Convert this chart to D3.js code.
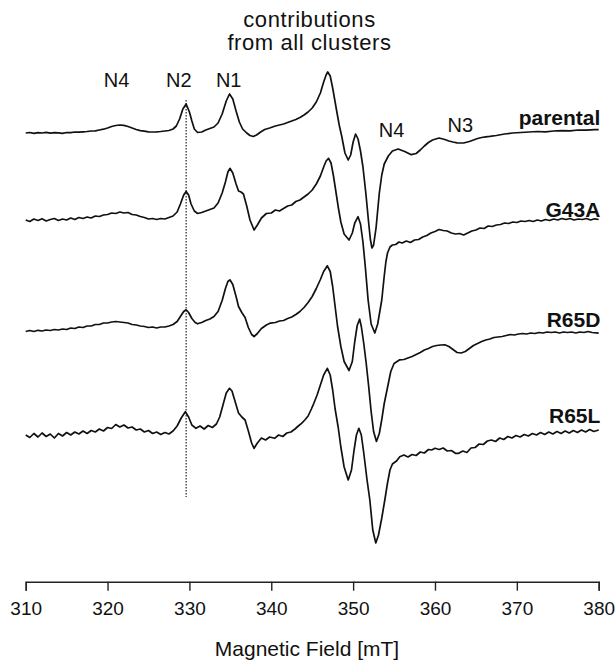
<!DOCTYPE html>
<html>
<head>
<meta charset="utf-8">
<script src="https://cdn.jsdelivr.net/npm/d3@7"></script>
<style>
  body { margin: 0; background: #fff; }
  svg { display: block; font-family: "Liberation Sans", Arial, Helvetica, sans-serif; }
</style>
</head>
<body>
<div class="canvas"></div>
<script>
// EPR spectra (field in mT, signal in arbitrary units, relative to each trace's baseline)
const parental = [[310,0],[310.5,0.5],[311,-0.3],[311.5,0.4],[312,0],[312.5,0.6],[313,-0.2],[313.5,0.3],[314,0.2],[314.5,-0.4],[315,0.5],[315.5,0.3],[316,1],[316.5,0.8],[317,1.2],[317.5,1.5],[318,2],[318.5,2.2],[319,3],[319.5,3.8],[320,5],[320.5,6.5],[321,7.5],[321.5,8],[322,7.6],[322.5,6.5],[323,5],[323.5,3.5],[324,2.4],[324.5,1.8],[325,1.2],[325.5,1],[326,1.2],[326.5,1.5],[327,2],[327.5,2.5],[328,4],[328.4,7],[328.8,14],[329.2,24],[329.6,29],[330,21],[330.3,12],[330.6,4],[331,0.5],[331.5,1],[332,3],[332.5,4.5],[333,6],[333.5,10],[334,19],[334.5,32],[334.9,39],[335.3,34],[335.7,22],[336.1,11],[336.5,4],[337,0],[337.4,-2.5],[337.8,-3.5],[338.2,-2],[338.7,1],[339.2,3.5],[339.8,5],[340.5,7],[341,8],[341.5,9],[342,10.5],[342.5,12],[343,13.5],[343.5,15.5],[344,18],[344.5,21],[345,25],[345.5,31],[346,40],[346.4,51],[346.7,58],[346.9,61],[347.2,57],[347.5,45],[347.97,23],[348.3,8],[348.6,-3],[349.0,-20],[349.4,-27],[349.7,-22],[350.0,-9],[350.3,-1],[350.6,-6],[350.9,-18],[351.2,-34],[351.55,-60],[351.9,-90],[352.1,-106],[352.3,-115],[352.5,-112],[352.8,-95],[353.2,-60],[353.5,-42],[353.8,-31],[354.3,-23],[354.8,-18],[355.5,-16],[356.3,-18.5],[357.1,-21.7],[357.7,-20.5],[358.2,-17],[358.7,-13],[359.2,-9.5],[359.7,-7],[360.5,-5],[361.2,-6.5],[361.7,-8],[362.2,-9],[362.7,-9.8],[363.5,-10],[364.2,-8.5],[364.7,-7],[365.2,-5.5],[365.7,-4.5],[366.2,-3.8],[366.7,-3.4],[367.5,-2.5],[368.5,-1],[369.5,0],[370.5,0.5],[371.5,1],[372.5,1.5],[373.5,1.2],[374.5,2],[375.5,2.4],[376.5,2.2],[377.5,3],[378.5,2.8],[379.5,3.4],[380,3.3]]

const g43a = [[310,0],[310.5,-1.5],[311,1],[311.5,-0.5],[312,1.2],[312.5,-1],[313,0.5],[313.5,1.5],[314,-0.5],[314.5,1],[315,0],[315.5,2],[316,0.5],[316.5,2.5],[317,1.5],[317.5,3],[318,2],[318.5,4],[319,3.5],[319.5,5],[320,5.5],[320.5,7],[321,6.5],[321.5,8],[322,7],[322.5,7.5],[323,5.5],[323.5,5],[324,3.5],[324.5,2.5],[325,1],[325.5,1.5],[326,0.5],[326.5,1.5],[327,1],[327.5,2.5],[328,4],[328.5,8],[328.9,16],[329.3,25],[329.6,28.5],[329.9,25],[330.2,16],[330.6,9],[331,6.5],[331.5,7.5],[332,9],[332.5,10.5],[333,12],[333.5,17],[334,27],[334.4,38],[334.7,48],[334.95,51.7],[335.3,47],[335.7,36],[336.0,29],[336.3,28],[336.6,26],[337.0,14],[337.4,0],[337.9,-10],[338.3,-5],[338.8,2],[339.4,6.5],[340,7],[340.5,10],[341,9],[341.5,11.5],[342,14],[342.5,15],[343,18.5],[343.5,20],[344,23],[344.5,26],[345,30],[345.5,36],[346,44],[346.4,53],[346.7,59],[347.0,61.7],[347.3,57],[347.6,44],[347.9,28],[348.2,12],[348.5,-2],[348.9,-14],[349.5,-20],[349.9,-13],[350.2,-3],[350.6,3.3],[350.9,-4],[351.2,-22],[351.5,-48],[351.83,-80],[352.2,-104],[352.65,-113],[353.0,-104],[353.25,-92],[353.5,-80],[353.8,-56],[354.0,-42],[354.2,-33],[354.5,-27],[354.8,-25],[355.2,-24.5],[355.6,-22],[356,-23],[356.5,-21],[357,-22.5],[357.5,-20],[358,-19.5],[358.5,-17],[359,-15.5],[359.5,-13],[360,-11.5],[360.5,-9.5],[361,-10.5],[361.5,-11],[362,-13],[362.5,-14],[363,-13.5],[363.5,-15],[364,-13],[364.5,-11],[365,-10],[365.5,-8],[366,-8.5],[366.5,-6],[367,-6.5],[367.5,-5],[368,-4.5],[368.5,-3],[369,-3.5],[369.5,-2],[370,-2.5],[370.5,-1],[371,-1.5],[371.5,-0.5],[372,-1.5],[372.5,0],[373,-1],[373.5,0.5],[374,-0.5],[374.5,1],[375,0],[375.5,1.5],[376,0.5],[376.5,1.5],[377,0],[377.5,1],[378,0.5],[378.5,1.5],[379,0],[379.5,1.2],[380,0.5]]

const r65d = [[310,0],[310.5,1],[311,0],[311.5,1.2],[312,0.5],[312.5,1.5],[313,1],[313.5,2],[314,1.5],[314.5,2.5],[315,2],[315.5,3.5],[316,3],[316.5,4.5],[317,4],[317.5,5.5],[318,5.5],[318.5,7],[319,7],[319.5,8.5],[320,8.5],[320.5,9.5],[321,10],[321.5,9.5],[322,9],[322.5,8.5],[323,7],[323.5,6.5],[324,5.5],[324.5,5],[325,4],[325.5,4.5],[326,3.5],[326.5,4.5],[327,4.5],[327.5,5.5],[328,7],[328.5,10],[328.9,15],[329.3,20],[329.6,21.7],[329.9,19],[330.3,13],[330.7,9],[331,7.7],[331.5,9],[332,11],[332.5,12.5],[333,15],[333.5,20],[334,31],[334.4,43],[334.7,50],[334.95,51.7],[335.3,47],[335.7,35],[336.0,25],[336.4,19],[336.8,14],[337.2,4],[337.6,-3],[337.9,-5],[338.3,-2],[338.8,3],[339.4,6.5],[339.9,8.4],[340.5,9],[341,10.5],[341.5,11],[342,13],[342.5,14.5],[343,17],[343.5,20],[344,24],[344.5,29],[345,35],[345.5,43],[346,52],[346.4,60],[346.85,65.7],[347.2,60],[347.5,45],[347.8,25],[348.1,5],[348.5,-15],[348.9,-30],[349.5,-39],[349.9,-30],[350.2,-10],[350.5,6],[350.8,12.4],[351.0,5],[351.3,-12],[351.6,-32],[351.9,-55],[352.2,-80],[352.5,-100],[352.85,-110],[353.2,-102],[353.5,-88],[353.8,-72],[354.1,-60],[354.3,-52],[354.6,-40],[355.0,-32],[355.7,-28.3],[356.2,-28],[356.7,-26.5],[357.2,-25],[357.7,-23],[358.2,-21],[358.7,-18.5],[359.2,-17],[359.7,-15],[360.2,-14],[360.7,-13.5],[361.2,-13.3],[361.7,-15],[362.2,-18],[362.7,-21],[363.2,-21.5],[363.7,-20],[364.2,-17],[364.7,-14],[365.2,-12],[365.7,-10],[366.2,-8.5],[366.7,-7.5],[367.2,-6],[367.7,-5.5],[368.2,-5],[368.7,-4],[369.2,-3],[369.7,-3.5],[370.2,-2.5],[370.7,-2],[371.2,-2.5],[371.7,-1.5],[372.2,-2],[372.7,-1],[373.2,-1.5],[373.7,-0.5],[374.2,-1],[374.7,-0.5],[375.2,-1.5],[375.7,-0.5],[376.2,-1],[376.7,-0.5],[377.2,-1.5],[377.7,-0.5],[378.2,-1],[378.7,0],[379.2,-1],[380,-1.6]]

const r65l = [[310,0],[310.5,-2.5],[311,1.5],[311.5,-2],[312,2],[312.5,-1.5],[313,1],[313.5,-3],[314,1.5],[314.5,-1],[315,2.5],[315.5,0],[316,3],[316.5,1],[317,4],[317.5,1.5],[318,4.5],[318.5,3],[319,6],[319.5,4],[320,7.5],[320.5,6.5],[321,10.5],[321.5,8],[322,10],[322.5,7],[323,8],[323.5,5],[324,6],[324.5,3],[325,4.5],[325.5,1.5],[326,3],[326.5,0.5],[327,2.5],[327.5,1],[328,4],[328.5,9],[329,17],[329.5,23.3],[329.9,18],[330.3,10],[330.8,6.7],[331.3,9],[331.8,6],[332.3,9.5],[332.8,7.5],[333.3,11],[333.7,18],[334.1,30],[334.5,42],[334.9,46.7],[335.2,44],[335.6,33],[336.0,22],[336.4,18],[336.8,15],[337.2,4],[337.6,-8],[337.9,-13.3],[338.3,-8],[338.8,-3],[339.3,-5],[339.8,-2],[340.4,-3.3],[340.9,0],[341.4,-1.5],[341.9,2],[342.4,3],[342.9,6],[343.3,9],[343.7,11.7],[344.1,15],[344.5,19],[344.9,26],[345.2,31.7],[345.6,40],[346.0,50],[346.4,60],[346.85,66.7],[347.2,60],[347.5,45],[347.8,26],[348.17,8],[348.5,-12],[348.9,-32],[349.4,-45],[349.8,-35],[350.1,-16],[350.4,0],[350.7,6.7],[351.0,0],[351.3,-18],[351.7,-45],[352.04,-65],[352.4,-95],[352.77,-108],[353.1,-100],[353.5,-83],[353.87,-65],[354.2,-48],[354.5,-35],[354.8,-29],[355.3,-26],[355.7,-21.7],[356.2,-20],[356.7,-22],[357.2,-19.5],[357.7,-20.5],[358.2,-17],[358.7,-18],[359.2,-14.5],[359.6,-15],[360,-13.3],[360.5,-14.5],[361,-13],[361.5,-16],[362,-15.5],[362.5,-18.3],[362.9,-18.3],[363.4,-16],[363.9,-17.5],[364.4,-13],[364.9,-12.5],[365.4,-9],[365.9,-9.5],[366.4,-6],[366.9,-5],[367.4,-6.5],[367.9,-3],[368.4,-4.5],[368.9,-1.5],[369.4,-3],[369.9,-0.5],[370.4,-2],[370.9,0.5],[371.4,-1],[371.9,1.5],[372.4,0],[372.9,2.5],[373.4,0.5],[373.9,3],[374.4,1],[374.9,3.5],[375.4,1.5],[375.9,4],[376.4,2],[376.9,4.5],[377.4,2.5],[377.9,5],[378.4,3],[378.9,5.5],[379.4,3.5],[380,5]]

const seriesNames = ['parental', 'G43A', 'R65D', 'R65L']
const seriesData = [parental, g43a, r65d, r65l]
const seriesOffsets = [0, -87, -198.5, -302]

const fieldTicks = [310, 320, 330, 340, 350, 360, 370, 380]

const peakNames = ['N4', 'N2', 'N1', 'N4', 'N3']
const peakFields = [321.1, 328.7, 334.8, 354.7, 363.1]

const titleLines = ['contributions', 'from all clusters']
const n2Field = 329.6

// Layout
const width = 616
const height = 663
const axisY = 581.7

const svg = d3.select('.canvas')
  .append('svg')
    .attr('width', width)
    .attr('height', height)

const x = d3.scaleLinear()
  .domain([310, 380])
  .range([25.7, 598.7])

const y = d3.scaleLinear()
  .domain([-447, 133])
  .range([580, 0])

// Dotted guide through N2
svg.append('line')
  .attr('x1', x(n2Field))
  .attr('x2', x(n2Field))
  .attr('y1', y(33))
  .attr('y2', y(-364))
  .attr('stroke', '#222')
  .attr('stroke-width', 1.2)
  .attr('stroke-dasharray', '1.5,1.5')

// Spectra
const line = d3.line()
  .x(d => x(d[0]))
  .y(d => y(d[1]))
  .curve(d3.curveLinear)

seriesData.forEach((series, i) => {
  const shifted = series.map(d => [d[0], d[1] + seriesOffsets[i]])
  svg.append('path')
    .datum(shifted)
    .attr('fill', 'none')
    .attr('stroke', '#111')
    .attr('stroke-width', 1.7)
    .attr('stroke-linejoin', 'round')
    .attr('d', line)
})

// Trace names
const nameLift = [8, 3.3, 5, 11.7]
svg.selectAll('.trace-name')
  .data(seriesNames)
  .enter()
  .append('text')
    .attr('class', 'trace-name')
    .attr('x', x(380.2))
    .attr('y', (d, i) => y(seriesOffsets[i] + nameLift[i]))
    .attr('text-anchor', 'end')
    .attr('font-size', 21)
    .attr('font-weight', 'bold')
    .attr('fill', '#111')
    .text(d => d)

// Peak labels
const peakLift = [46.3, 46.3, 46.3, -4.3, 1.3]
svg.selectAll('.peak')
  .data(peakNames)
  .enter()
  .append('text')
    .attr('class', 'peak')
    .attr('x', (d, i) => x(peakFields[i]))
    .attr('y', (d, i) => y(peakLift[i]))
    .attr('text-anchor', 'middle')
    .attr('font-size', 20)
    .attr('fill', '#111')
    .text(d => d)

// Title
svg.selectAll('.title')
  .data(titleLines)
  .enter()
  .append('text')
    .attr('class', 'title')
    .attr('x', 309.5)
    .attr('y', (d, i) => 26.7 + i * 23.5)
    .attr('text-anchor', 'middle')
    .attr('font-size', 22)
    .attr('letter-spacing', 0.6)
    .attr('fill', '#111')
    .text(d => d)

// X axis
const axis = d3.axisBottom(x)
  .tickValues(fieldTicks)
  .tickSize(9)
  .tickSizeOuter(9)
  .tickPadding(11)
  .tickFormat(d3.format('d'))

const axisGroup = svg.append('g')
  .attr('transform', `translate(0, ${axisY})`)
  .call(axis)

axisGroup.select('.domain')
  .attr('stroke', '#222')
  .attr('stroke-width', 1.4)
axisGroup.selectAll('.tick line')
  .attr('stroke', '#222')
  .attr('stroke-width', 1.4)
axisGroup.selectAll('text')
  .attr('font-size', 19)
  .attr('font-family', '"Liberation Sans", Arial, sans-serif')
  .attr('fill', '#111')

svg.append('text')
  .attr('x', 307)
  .attr('y', 656)
  .attr('text-anchor', 'middle')
  .attr('font-size', 21)
  .attr('fill', '#111')
  .text('Magnetic Field [mT]')
</script>
</body>
</html>
